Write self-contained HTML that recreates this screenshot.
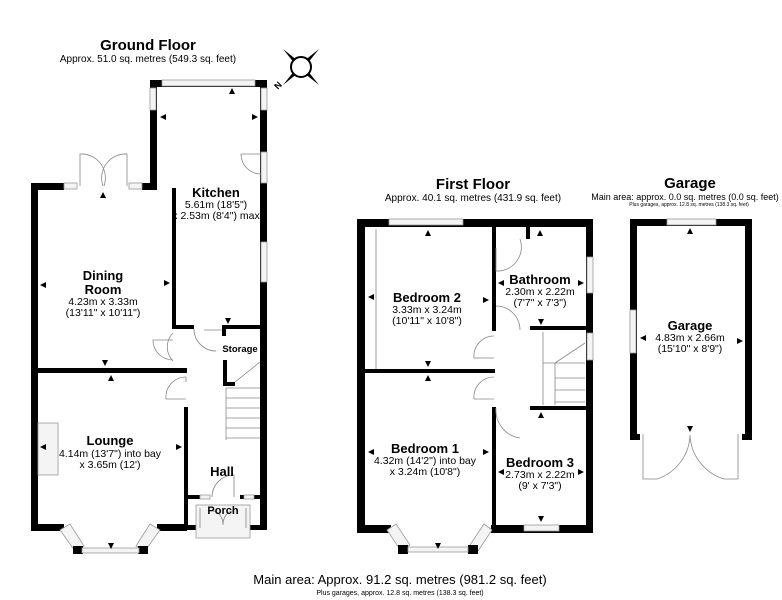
<!DOCTYPE html>
<html><head><meta charset="utf-8"><style>
html,body{margin:0;padding:0;background:#fff;}
svg{display:block;font-family:"Liberation Sans",Arial,sans-serif;}
.w{fill:#000}
.win{fill:#f4f4f4;stroke:#999;stroke-width:0.8}
.thin{fill:none;stroke:#888;stroke-width:0.8}
.t{font-weight:bold;font-size:13px;text-anchor:middle}
.s{font-size:10.5px;text-anchor:middle}
.a{fill:#000}
</style></head><body>
<svg width="782" height="600" viewBox="0 0 782 600" xmlns="http://www.w3.org/2000/svg">
<text x="148" y="50" font-size="15" font-weight="bold" text-anchor="middle">Ground Floor</text>
<text x="148" y="62" font-size="10" text-anchor="middle">Approx. 51.0 sq. metres (549.3 sq. feet)</text>
<text x="473" y="189" font-size="15" font-weight="bold" text-anchor="middle">First Floor</text>
<text x="473" y="201" font-size="10" text-anchor="middle">Approx. 40.1 sq. metres (431.9 sq. feet)</text>
<text x="690" y="188" font-size="15" font-weight="bold" text-anchor="middle">Garage</text>
<text x="685" y="200" font-size="9" text-anchor="middle">Main area: approx. 0.0 sq. metres (0.0 sq. feet)</text>
<text x="689" y="206" font-size="5" text-anchor="middle">Plus garages, approx. 12.8 sq. metres (138.3 sq. feet)</text>
<text x="400" y="584" font-size="13" text-anchor="middle">Main area: Approx. 91.2 sq. metres (981.2 sq. feet)</text>
<text x="400" y="595" font-size="7" text-anchor="middle">Plus garages, approx. 12.8 sq. metres (138.3 sq. feet)</text>

<g transform="translate(301,67)">
<polygon points="-18,-18 -3,-6 -6,-3" /><polygon points="18,-18 3,-6 6,-3"/><polygon points="18,18 3,6 6,3"/><polygon points="-18,18 -3,6 -6,3"/>
<circle r="10" fill="#fff" stroke="#000" stroke-width="2"/>
<text x="-26" y="24" font-size="9" font-weight="bold" transform="rotate(-45 -26 20)">N</text>
</g>

<rect class="w" x="31" y="183" width="7" height="347"/>
<rect class="w" x="31" y="183" width="33" height="7"/>
<rect class="w" x="142" y="183" width="15" height="7"/>
<rect class="win" x="64" y="183" width="13" height="6"/>
<rect class="win" x="129" y="183" width="13" height="6"/>
<path class="thin" d="M80,186 v-32 a24,24 0 0 1 24,32 M127,186 v-32 a24,24 0 0 0 -24,32"/>
<rect class="w" x="150" y="80" width="7" height="110"/>
<rect class="win" x="150" y="88" width="6" height="22"/>
<rect class="w" x="150" y="80" width="113" height="7"/>
<rect class="win" x="162" y="80" width="93" height="6"/>
<rect class="w" x="260" y="80" width="7" height="450"/>
<rect class="win" x="261" y="88" width="6" height="22"/>
<rect class="win" x="261" y="152" width="6" height="31" fill="#fff"/>
<path class="thin" d="M261,154 h-20 a20,20 0 0 0 20,20"/>
<rect class="win" x="261" y="242" width="6" height="40"/>
<rect class="w" x="172" y="188" width="4" height="140"/>
<rect class="w" x="172" y="325" width="22" height="4"/>
<rect class="w" x="222" y="325" width="40" height="4"/>
<rect class="w" x="222" y="328" width="4" height="8"/>
<rect class="w" x="223" y="360" width="4" height="25"/>
<rect class="w" x="223" y="382" width="12" height="4"/>
<path class="thin" d="M194,329 a22,22 0 0 0 22,22 M222,330 h-18 M173,333 a20,20 0 0 0 0,28 M173,340 h-20 a20,20 0 0 0 20,20"/>
<rect class="w" x="37" y="368" width="150" height="5"/>
<rect class="w" x="184" y="407" width="4" height="123"/>
<path class="thin" d="M186,377 a20,20 0 0 0 -20,22 h20 M186,377 v5"/>
<path class="thin" d="M226,388 h34 M226,398 h34 M226,408 h34 M226,418 h34 M226,428 h34 M226,438 h34 M226,388 v52 M235,382 l25,-20"/>
<rect class="w" x="184" y="495" width="20" height="4"/>
<rect class="w" x="240" y="495" width="22" height="4"/>
<rect class="win" x="200" y="495" width="10" height="4"/>
<rect class="win" x="244" y="495" width="10" height="4"/>
<path class="thin" d="M212,497 a22,22 0 0 1 22,-22 v22"/>
<rect class="w" x="184" y="525" width="14" height="5"/>
<rect class="w" x="250" y="525" width="17" height="5"/>
<rect class="win" x="196" y="505" width="54" height="33" fill="#fff"/>
<path class="thin" d="M200,508 v20 M246,508 v20 M223,525 a10,14 0 0 0 -10,-14 M223,525 a10,14 0 0 1 10,-14"/>
<rect class="w" x="31" y="524" width="33" height="7"/>
<rect class="w" x="157" y="524" width="30" height="7"/>
<polygon class="win" points="60,530 70,524 84,546 75,551"/>
<polygon class="win" points="160,530 150,524 136,546 145,551"/>
<rect class="w" x="73" y="546" width="10" height="8"/>
<rect class="w" x="138" y="546" width="10" height="8"/>
<rect class="win" x="82" y="548" width="57" height="5"/>
<rect class="win" x="38" y="423" width="20" height="52" fill="#fff"/>

<text class="t" x="216" y="197">Kitchen</text>
<text class="s" x="216" y="208">5.61m (18'5")</text>
<text class="s" x="216" y="219">x 2.53m (8'4") max</text>
<text class="t" x="103" y="280">Dining</text>
<text class="t" x="103" y="294">Room</text>
<text class="s" x="103" y="305">4.23m x 3.33m</text>
<text class="s" x="103" y="316">(13'11" x 10'11")</text>
<text x="240" y="352" font-size="9.5" font-weight="bold" text-anchor="middle">Storage</text>
<text class="t" x="110" y="445">Lounge</text>
<text class="s" x="110" y="457">4.14m (13'7") into bay</text>
<text class="s" x="110" y="468">x 3.65m (12')</text>
<text class="t" x="222" y="476">Hall</text>
<text x="223" y="514" font-size="11" font-weight="bold" text-anchor="middle">Porch</text>
<g class="a">
<polygon points="232,88 229,94 235,94"/><polygon points="160,117 166,114 166,120"/><polygon points="258,117 252,114 252,120"/>
<polygon points="103,192 100,198 106,198"/><polygon points="40,285 46,282 46,288"/><polygon points="170,283 164,280 164,286"/>
<polygon points="228,324 225,318 231,318"/><polygon points="105,366 102,360 108,360"/><polygon points="111,375 108,381 114,381"/>
<polygon points="40,447 46,444 46,450"/><polygon points="182,447 176,444 176,450"/><polygon points="111,549 108,543 114,543"/>
</g>

<rect class="w" x="357" y="219" width="236" height="8"/>
<rect class="win" x="389" y="219" width="74" height="6"/>
<rect class="w" x="357" y="219" width="8" height="314"/>
<rect class="w" x="586" y="219" width="7" height="314"/>
<rect class="win" x="587" y="257" width="6" height="36"/>
<rect class="win" x="587" y="333" width="6" height="27"/>
<rect class="w" x="357" y="525" width="34" height="8"/>
<rect class="w" x="491" y="525" width="102" height="8"/>
<rect class="win" x="524" y="525" width="35" height="6"/>
<polygon class="win" points="387,530 396,524 410,545 401,551"/>
<polygon class="win" points="492,530 484,524 470,545 478,551"/>
<rect class="w" x="398" y="545" width="10" height="9"/>
<rect class="w" x="468" y="545" width="10" height="9"/>
<rect class="win" x="408" y="547" width="60" height="5"/>
<rect class="w" x="365" y="369" width="130" height="4"/>
<rect class="w" x="492" y="227" width="4" height="104"/>
<rect class="w" x="492" y="407" width="4" height="121"/>
<rect class="w" x="526" y="227" width="4" height="12"/>
<rect class="w" x="530" y="326" width="56" height="4"/>
<rect class="w" x="530" y="406" width="56" height="4"/>
<path class="thin" d="M376,229 v140 M496,248 v23 a24,24 0 0 0 24,-32 M496,306 a24,24 0 0 1 24,24 M494,336 a20,20 0 0 0 -20,22 h20 M494,377 a20,20 0 0 0 -20,22 h20 M496,408 a28,28 0 0 0 24,30 M543,332 v73 M543,363 h42 M555,378 h30 M555,390 h30 M555,402 h30 M555,363 v42 M555,363 l30,-20"/>
<text class="t" x="540" y="284">Bathroom</text>
<text class="s" x="540" y="295">2.30m x 2.22m</text>
<text class="s" x="540" y="306">(7'7" x 7'3")</text>
<text class="t" x="427" y="302">Bedroom 2</text>
<text class="s" x="427" y="313">3.33m x 3.24m</text>
<text class="s" x="427" y="324">(10'11" x 10'8")</text>
<text class="t" x="425" y="453">Bedroom 1</text>
<text class="s" x="425" y="464">4.32m (14'2") into bay</text>
<text class="s" x="425" y="475">x 3.24m (10'8")</text>
<text class="t" x="540" y="467">Bedroom 3</text>
<text class="s" x="540" y="478">2.73m x 2.22m</text>
<text class="s" x="540" y="489">(9' x 7'3")</text>
<g class="a">
<polygon points="428,230 425,236 431,236"/><polygon points="540,230 537,236 543,236"/><polygon points="368,297 374,294 374,300"/>
<polygon points="489,300 483,297 483,303"/><polygon points="498,283 504,280 504,286"/><polygon points="584,283 578,280 578,286"/>
<polygon points="541,325 538,319 544,319"/><polygon points="428,367 425,361 431,361"/><polygon points="428,375 425,381 431,381"/>
<polygon points="541,412 538,418 544,418"/><polygon points="368,452 374,449 374,455"/><polygon points="489,452 483,449 483,455"/>
<polygon points="498,472 504,469 504,475"/><polygon points="584,472 578,469 578,475"/><polygon points="541,522 538,516 544,516"/><polygon points="438,549 435,543 441,543"/>
</g>

<rect class="w" x="630" y="219" width="122" height="7"/>
<rect class="win" x="667" y="219" width="49" height="6"/>
<rect class="w" x="630" y="219" width="7" height="221"/>
<rect class="w" x="745" y="219" width="7" height="221"/>
<rect class="win" x="630" y="310" width="6" height="43"/>
<rect class="w" x="630" y="434" width="10" height="6"/>
<rect class="w" x="742" y="434" width="10" height="6"/>
<path class="thin" d="M643,434 v45 h14 M657,479 a48,48 0 0 0 33,-44 M738,434 v45 h-14 M724,479 a48,48 0 0 1 -34,-44"/>
<text class="t" x="690" y="330">Garage</text>
<text class="s" x="690" y="341">4.83m x 2.66m</text>
<text class="s" x="690" y="352">(15'10" x 8'9")</text>
<g class="a">
<polygon points="690,228 687,234 693,234"/><polygon points="640,338 646,335 646,341"/><polygon points="743,341 737,338 737,344"/><polygon points="690,432 687,426 693,426"/>
</g>
</svg>
</body></html>
